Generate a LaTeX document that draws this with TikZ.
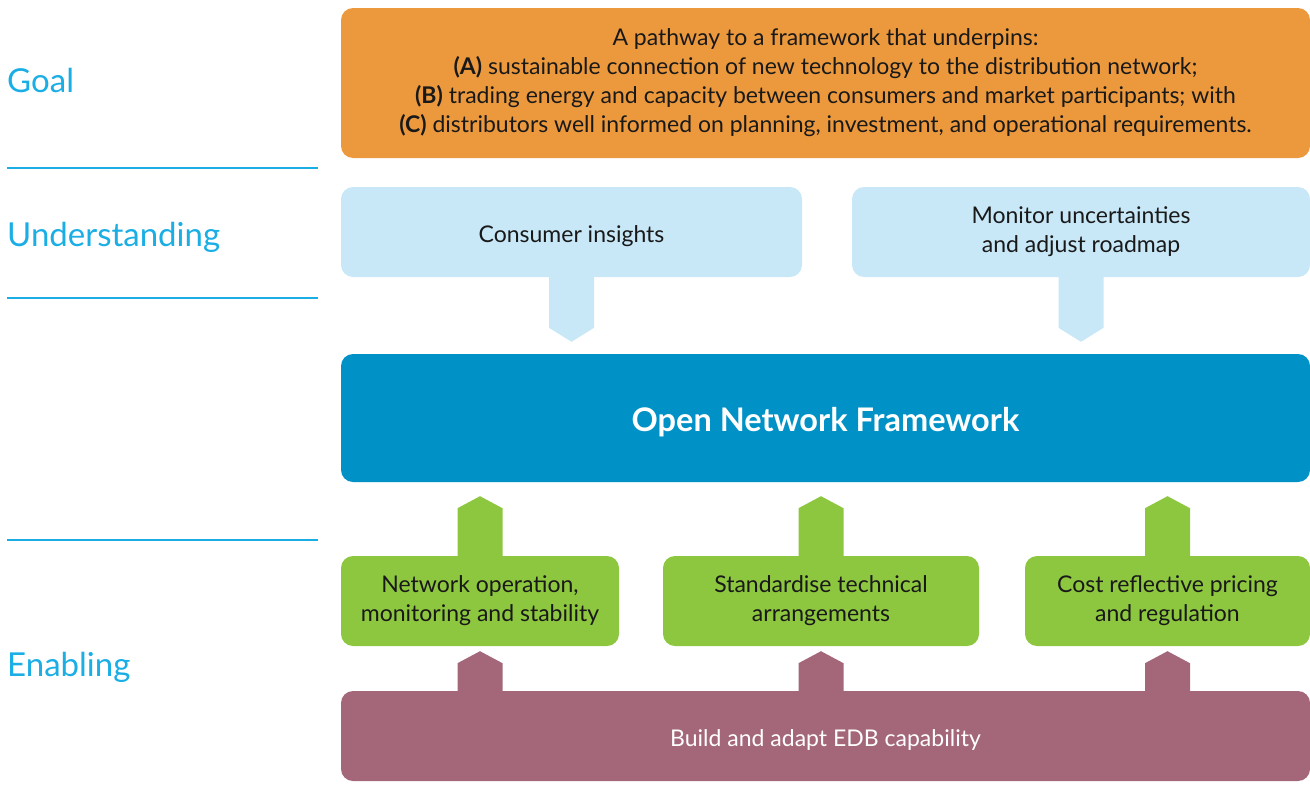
\documentclass[tikz,border=0pt]{standalone}
\usepackage{fontspec}
\setmainfont{Lato}
\usetikzlibrary{positioning,calc}

\definecolor{goalorange}{HTML}{EC993E}
\definecolor{lightblue}{HTML}{C8E8F8}
\definecolor{netblue}{HTML}{0092C6}
\definecolor{enablegreen}{HTML}{8DC63F}
\definecolor{edbpurple}{HTML}{A4677A}
\definecolor{labelcyan}{HTML}{1AAEE5}

\tikzset{
    box/.style={
        rounded corners=12pt,
        inner sep=0pt,
        align=center,
        text=black!90,
        font=\fontsize{23}{29}\selectfont
    },
    oneline/.style={text height=25pt, text depth=4pt},
    sidelabel/.style={
        anchor=west,
        inner sep=0pt,
        text=labelcyan,
        font=\fontsize{33}{38}\selectfont
    },
    sideline/.style={labelcyan, line width=2pt}
}

% block arrows pointing down / up, base x from #2, tip stops #4 short of #3
\newcommand{\arrowdown}[4]{\fill[#1] let \p1=(#2), \p2=(#3) in
    (\x1-22.5pt,\y1+1pt) -- (\x1-22.5pt,\y2+#4+14pt) -- (\x1,\y2+#4)
    -- (\x1+22.5pt,\y2+#4+14pt) -- (\x1+22.5pt,\y1+1pt) -- cycle;}
\newcommand{\arrowup}[4]{\fill[#1] let \p1=(#2), \p2=(#3) in
    (\x1-22.5pt,\y1-1pt) -- (\x1-22.5pt,\y2-#4-12pt) -- (\x1,\y2-#4)
    -- (\x1+22.5pt,\y2-#4-12pt) -- (\x1+22.5pt,\y1-1pt) -- cycle;}

\begin{document}
\begin{tikzpicture}[x=1pt, y=-1pt]
\useasboundingbox (0,0) rectangle (1310,798);

% row labels
\node[sidelabel] (goal) at (7,80) {Goal};
\node[sidelabel] (understanding) at (7,237) {Understanding};
\node[sidelabel] (enabling) at (7,667) {Enabling};
\coordinate (l1) at (7,168);
\coordinate (l2) at (7,298);
\coordinate (l3) at (7,540);
\draw[sideline] (l1) -- ++(311,0);
\draw[sideline] (l2) -- ++(311,0);
\draw[sideline] (l3) -- ++(311,0);

% boxes
\node[box, fill=goalorange, minimum width=969pt, minimum height=150pt] (pathway) at (825.5,83)
    {A pathway to a framework that underpins:\\
     \textbf{(A)} sustainable connection of new technology to the distribution network;\\
     \textbf{(B)} trading energy and capacity between consumers and market participants; with\\
     \textbf{(C)} distributors well informed on planning, investment, and operational requirements.};
\node[box, oneline, fill=lightblue, minimum width=461pt, minimum height=90pt] (insights) at (571.5,232)
    {Consumer insights};
\node[box, fill=lightblue, minimum width=458pt, minimum height=90pt] (monitor) at (1081,232)
    {Monitor uncertainties\\and adjust roadmap};
\node[box, fill=netblue, text=white, minimum width=969pt, minimum height=128pt,
      text height=30pt, text depth=3pt,
      font=\fontsize{32.5}{38}\selectfont\bfseries] (onf) at (825.5,418)
    {Open Network Framework};
\node[box, fill=enablegreen, minimum width=278pt, minimum height=90pt] (operation) at (480,601)
    {Network operation,\\monitoring and stability};
\node[box, fill=enablegreen, minimum width=316pt, minimum height=90pt] (standardise) at (821,601)
    {Standardise technical\\arrangements};
\node[box, fill=enablegreen, minimum width=285pt, minimum height=90pt] (pricing) at (1167.5,601)
    {Cost reflective pricing\\and regulation};
\node[box, oneline, fill=edbpurple, text=white, minimum width=969pt, minimum height=90pt] (edb) at (825.5,736)
    {Build and adapt EDB capability};

% arrows
\arrowdown{lightblue}{insights.south}{onf.north}{12pt}
\arrowdown{lightblue}{monitor.south}{onf.north}{12pt}
\arrowup{enablegreen}{operation.north}{onf.south}{14pt}
\arrowup{enablegreen}{standardise.north}{onf.south}{14pt}
\arrowup{enablegreen}{pricing.north}{onf.south}{14pt}
\arrowup{edbpurple}{operation |- edb.north}{operation.south}{5pt}
\arrowup{edbpurple}{standardise |- edb.north}{standardise.south}{5pt}
\arrowup{edbpurple}{pricing |- edb.north}{pricing.south}{5pt}
\end{tikzpicture}
\end{document}
